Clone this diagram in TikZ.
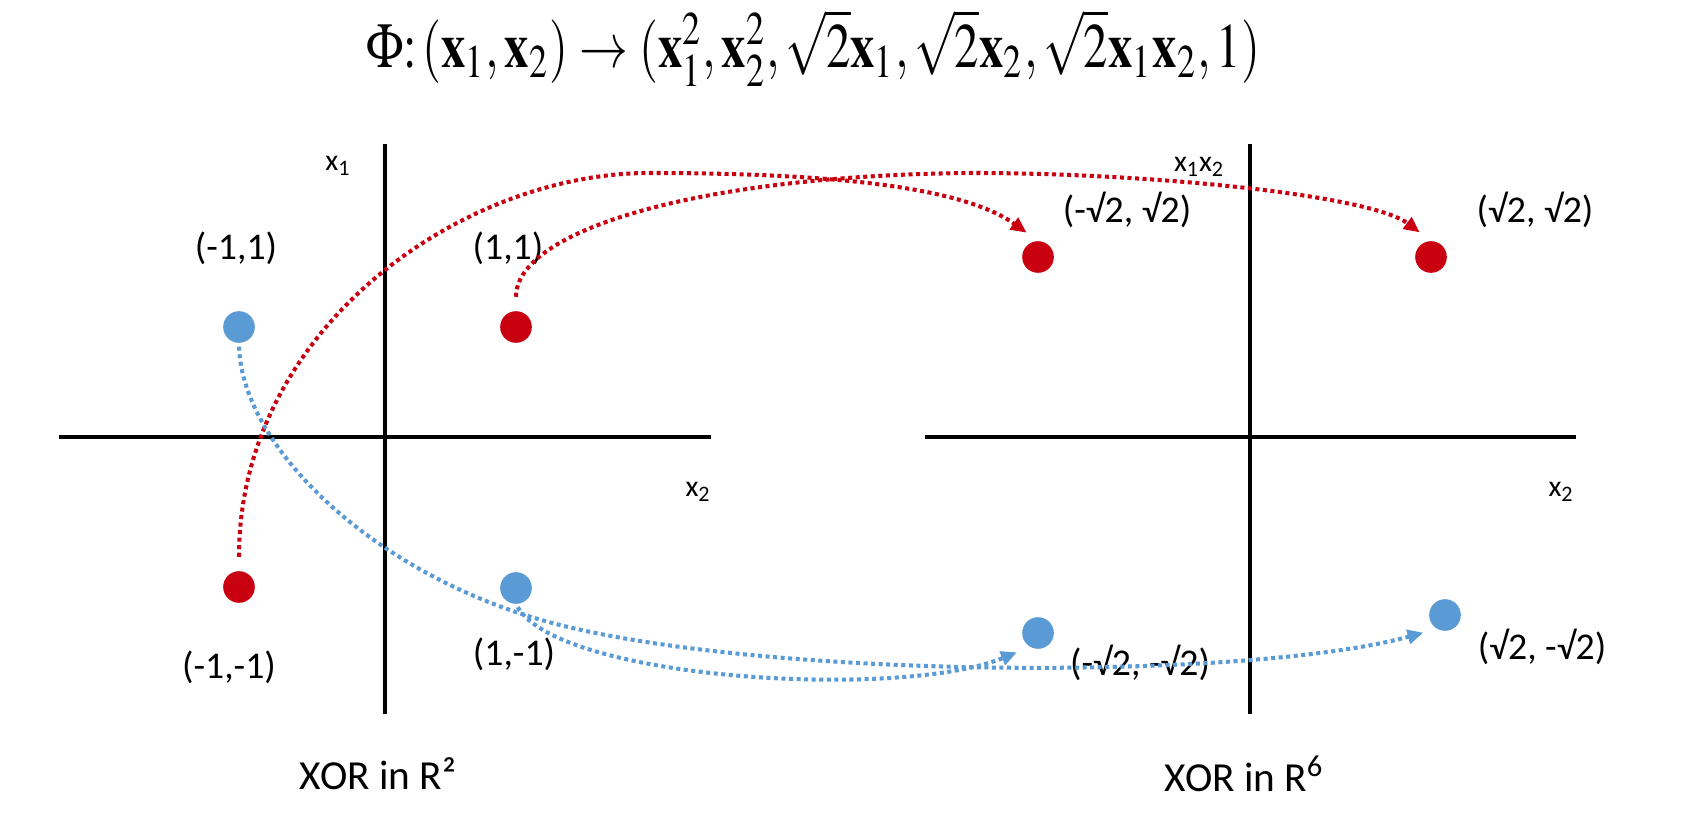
\documentclass[tikz,border=0pt]{standalone}
\usepackage{mathptmx}
\usepackage{fontspec}
\usepackage{graphicx}
\setmainfont{Liberation Serif}
\newfontfamily\calib{Carlito}
\usetikzlibrary{arrows.meta}
\definecolor{hot}{HTML}{C8000F}
\definecolor{cold}{HTML}{5B9BD5}

\begin{document}
\begin{tikzpicture}[x=0.02cm, y=-0.02cm,
  ax/.style={line width=2.3pt},
  xorpt/.style={circle, inner sep=0pt, minimum size=18pt, fill=#1},
  lab/.style={font=\calib\fontsize{21.5}{24}\selectfont},
  axl/.style={font=\calib\fontsize{17}{20}\selectfont},
  xorcap/.style={font=\calib\fontsize{23.5}{26}\selectfont},
  ar/.style={draw=#1, line width=2.3pt, dash pattern=on 2.3pt off 2pt,
    -{Triangle[length=9pt, width=8pt]}, shorten <=2pt, shorten >=8pt}
]
\useasboundingbox (0,0) rectangle (1696,820);

\node (phi) at (813,48) {\resizebox{17.88cm}{!}{\scalebox{1}[1.3]{$\Phi{:}\,(\mathbf{x}_1,\mathbf{x}_2)\rightarrow(\mathbf{x}_1^2,\mathbf{x}_2^2,\sqrt{2}\mathbf{x}_1,\sqrt{2}\mathbf{x}_2,\sqrt{2}\mathbf{x}_1\mathbf{x}_2,1)$}}};

\draw[ax] (59,437) -- (711,437);
\draw[ax] (385,144) -- (385,714);
\draw[ax] (925,437) -- (1576,437);
\draw[ax] (1250,144) -- (1250,714);

\node[xorpt=cold] (mp) at (239,327) {};
\node[xorpt=hot] (pp) at (516,327) {};
\node[xorpt=hot] (mm) at (239,587) {};
\node[xorpt=cold] (pm) at (516,588) {};
\node[xorpt=hot] (mmr) at (1038,257) {};
\node[xorpt=hot] (ppr) at (1431,257) {};
\node[xorpt=cold] (pmr) at (1038,633) {};
\node[xorpt=cold] (mpr) at (1445,615) {};

\node[axl] (x1l) at (338,166) {x\textsubscript{1}};
\node[axl] (x2l) at (698,492) {x\textsubscript{2}};
\node[axl] (x12r) at (1199,167) {x\textsubscript{1}x\textsubscript{2}};
\node[axl] (x2r) at (1561,492) {x\textsubscript{2}};

\node[lab] (mpl) at (236,248) {(-1,1)};
\node[lab] (ppl) at (508,248) {(1,1)};
\node[lab] (mml) at (229,667) {(-1,-1)};
\node[lab] (pml) at (514,654) {(1,-1)};
\node[lab] (mmrl) at (1127,210) {(-√2, √2)};
\node[lab] (pprl) at (1535,210) {(√2, √2)};
\node[lab] (pmrl) at (1140,663) {(-√2, -√2)};
\node[lab] (mprl) at (1542,647) {(√2, -√2)};

\node[xorcap] (r2) at (378,774) {XOR in R²};
\node[xorcap] (r6) at (1244,774) {XOR in R\textsuperscript{6}};

\draw[ar=hot, shorten <=8pt] (mm.north) .. controls (239,330) and (460,173) .. (649,173)
  .. controls (820,173) and (960,185) .. (mmr.north);
\draw[ar=hot, shorten <=8pt] (pp.north) .. controls (516,230) and (700,175) .. (973,173)
  .. controls (1150,173) and (1370,195) .. (ppr.north);
\draw[ar=cold] (mp.south) .. controls (242,450) and (380,580) .. (560,625)
  .. controls (780,680) and (1250,680) .. (mpr.-120);
\draw[ar=cold] (pm.south) .. controls (560,680) and (900,700) .. (pmr.-120);
\end{tikzpicture}
\end{document}
